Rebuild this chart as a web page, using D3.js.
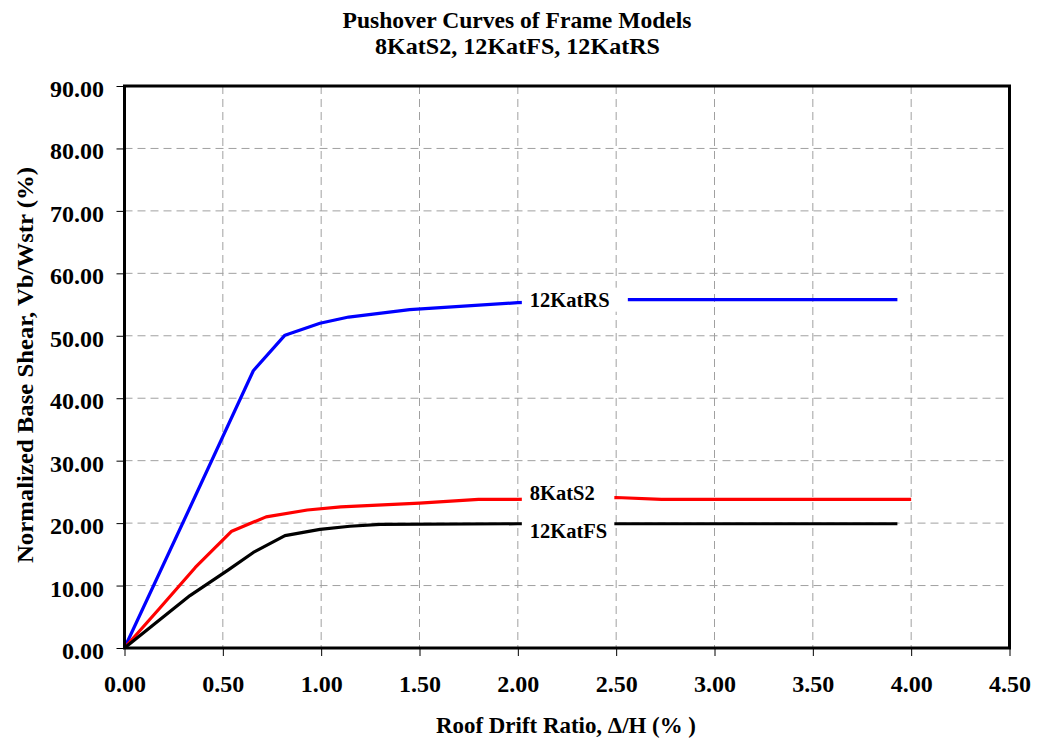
<!DOCTYPE html>
<html>
<head>
<meta charset="utf-8">
<script src="https://cdn.jsdelivr.net/npm/d3@7"></script>
<style>
  html, body { margin: 0; padding: 0; background: #fff; }
  svg { display: block; }
  text { font-family: "Liberation Serif", "Times New Roman", serif; font-weight: bold; fill: #000; }
</style>
</head>
<body>
<svg id="chart" width="1039" height="742"></svg>
<script>
// Pushover curves: roof drift ratio (%) vs normalized base shear (%)
const seriesNames = ["12KatRS", "8KatS2", "12KatFS"];
const seriesColors = ["#0000ff", "#ff0000", "#000000"];

const drift12KatRS = [0, 0.33, 0.655, 0.816, 0.994, 1.14, 1.45, 2.0, 2.55, 3.93];
const shear12KatRS = [0, 22.3, 44.4, 50.1, 52.0, 53.0, 54.2, 55.3, 55.8, 55.8];

const drift8KatS2 = [0, 0.18, 0.36, 0.545, 0.72, 0.93, 1.1, 1.5, 1.8, 2.0, 2.5, 2.73, 4.0];
const shear8KatS2 = [0, 6.4, 12.9, 18.7, 21.0, 22.1, 22.6, 23.2, 23.8, 23.8, 24.1, 23.8, 23.8];

const drift12KatFS = [0, 0.333, 0.528, 0.655, 0.816, 0.994, 1.146, 1.30, 2.0, 3.93];
const shear12KatFS = [0, 8.4, 12.5, 15.3, 18.0, 19.0, 19.5, 19.8, 19.9, 19.9];

const xTicks = [0, 0.5, 1, 1.5, 2, 2.5, 3, 3.5, 4, 4.5];
const yTicks = [0, 10, 20, 30, 40, 50, 60, 70, 80, 90];
const labelAtDrift = 2.0;

const titleLines = ["Pushover Curves of Frame Models", "8KatS2, 12KatFS, 12KatRS"];
const xTitle = "Roof Drift Ratio, \u0394/H (% )";
const yTitle = "Normalized Base Shear, Vb/Wstr (%)";

const series = [
  { name: seriesNames[0], color: seriesColors[0], x: drift12KatRS, y: shear12KatRS, dy: 4, boxW: 106 },
  { name: seriesNames[1], color: seriesColors[1], x: drift8KatS2, y: shear8KatS2, dy: 0.6, boxW: 92.5 },
  { name: seriesNames[2], color: seriesColors[2], x: drift12KatFS, y: shear12KatFS, dy: 14.6, boxW: 92.5 }
];

const svg = d3.select("#chart");
const plot = { left: 124.5, right: 1009.5, top: 86, bottom: 648 };

const x = d3.scaleLinear().domain([0, 4.5]).range([plot.left, plot.right]);
const y = d3.scaleLinear().domain([0, 90]).range([plot.bottom, plot.top]);

svg.append("rect").attr("width", 1039).attr("height", 742).attr("fill", "#fff");

// fit a text element to a target width
function fit(sel, w) {
  sel.attr("textLength", w).attr("lengthAdjust", "spacingAndGlyphs");
}

// gridlines
const grid = svg.append("g").attr("class", "grid");
grid.selectAll("line.h").data(yTicks.filter(d => d > 0 && d < 90)).enter().append("line")
  .attr("x1", plot.left).attr("x2", plot.right)
  .attr("y1", d => y(d)).attr("y2", d => y(d))
  .attr("stroke", "#a0a0a0").attr("stroke-width", 1).attr("stroke-dasharray", "8,5");
grid.selectAll("line.v").data(xTicks.filter(d => d > 0 && d < 4.5)).enter().append("line")
  .attr("y1", plot.top).attr("y2", plot.bottom)
  .attr("x1", d => x(d)).attr("x2", d => x(d))
  .attr("stroke", "#a0a0a0").attr("stroke-width", 1).attr("stroke-dasharray", "8,5");

// axes
const yAxis = d3.axisLeft(y).tickValues(yTicks).tickSize(8).tickFormat(d3.format(".2f"));
const xAxis = d3.axisBottom(x).tickValues(xTicks).tickSize(8).tickFormat(d3.format(".2f"));

const gy = svg.append("g").attr("transform", `translate(${plot.left},0)`).call(yAxis);
gy.select(".domain").remove();
gy.selectAll(".tick line").attr("stroke", "#000").attr("stroke-width", 1);
gy.selectAll(".tick text")
  .attr("x", -20.5).attr("dy", null).attr("y", 10.5)
  .style("font-size", "24px").style("font-family", null).attr("font-family", null);

const gx = svg.append("g").attr("transform", `translate(0,${plot.bottom})`).call(xAxis);
gx.select(".domain").remove();
gx.selectAll(".tick line").attr("stroke", "#000").attr("stroke-width", 1);
gx.selectAll(".tick text")
  .attr("y", 43.7).attr("dy", null)
  .style("font-size", "24px");
svg.selectAll(".tick text").attr("font-family", null).attr("font-size", null);

// curves
const line = d3.line().x(d => x(d[0])).y(d => y(d[1]));
series.forEach(s => {
  const pts = s.x.map((v, i) => [v, s.y[i]]);
  svg.append("path").datum(pts)
    .attr("d", line)
    .attr("fill", "none")
    .attr("stroke", s.color)
    .attr("stroke-width", 3.2)
    .attr("stroke-linejoin", "round");
});

// series labels on white boxes at the chosen drift
series.forEach(s => {
  const i = s.x.indexOf(labelAtDrift);
  const px = x(s.x[i]);
  const py = y(s.y[i]) + s.dy;
  svg.append("rect")
    .attr("x", px + 4).attr("y", py - 19)
    .attr("width", s.boxW).attr("height", 24)
    .attr("fill", "#fff");
  svg.append("text")
    .attr("x", px + 12).attr("y", py)
    .style("font-size", "20.5px")
    .text(s.name);
});

// plot frame
svg.append("rect")
  .attr("x", plot.left).attr("y", plot.top)
  .attr("width", plot.right - plot.left).attr("height", plot.bottom - plot.top)
  .attr("fill", "none").attr("stroke", "#000").attr("stroke-width", 3);

// titles
svg.append("text").attr("x", 517).attr("y", 28.3).attr("text-anchor", "middle")
  .style("font-size", "23.5px").text(titleLines[0]).call(fit, 349);
svg.append("text").attr("x", 517.5).attr("y", 54).attr("text-anchor", "middle")
  .style("font-size", "23.5px").text(titleLines[1]).call(fit, 285);

svg.append("text").attr("x", 566).attr("y", 733.3).attr("text-anchor", "middle")
  .style("font-size", "23px").text(xTitle).call(fit, 260);

svg.append("text")
  .attr("transform", "translate(32.5,365) rotate(-90)")
  .attr("text-anchor", "middle")
  .style("font-size", "24px").text(yTitle).call(fit, 396);
</script>
</body>
</html>
